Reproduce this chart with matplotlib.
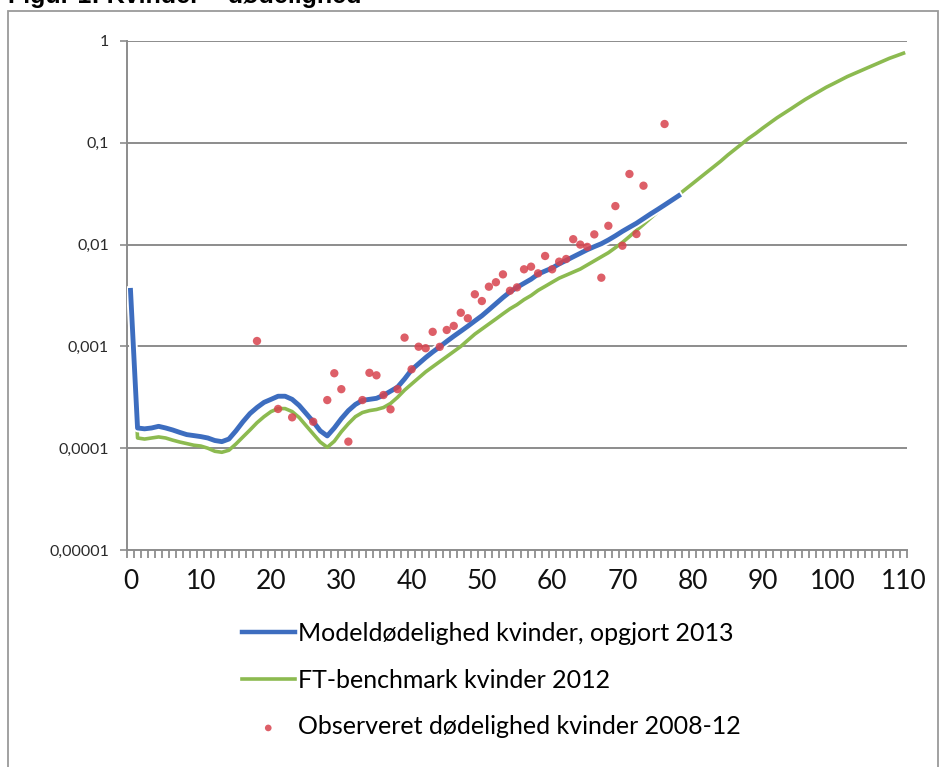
import numpy as np
import matplotlib.pyplot as plt
import matplotlib.patheffects as pe
from matplotlib.patches import Rectangle

plt.rcParams['font.family'] = ['Lato', 'DejaVu Sans']

# mortality rates by age (q_x), women
ages_model = list(range(0, 79))
model_2013 = [
    0.00355, 0.000158, 0.000155, 0.000158, 0.000164, 0.000158, 0.000151, 0.000143, 0.000136, 0.000133,
    0.000130, 0.000126, 0.000119, 0.000116, 0.000123, 0.000148, 0.000182, 0.000219, 0.000251, 0.000282,
    0.000302, 0.000324, 0.000324, 0.000302, 0.000263, 0.000219, 0.000182, 0.000148, 0.000132, 0.000158,
    0.000195, 0.000234, 0.000269, 0.000295, 0.000302, 0.000309, 0.000331, 0.000363, 0.000398, 0.000479,
    0.000589, 0.000676, 0.000776, 0.000881, 0.00099, 0.00112, 0.00126, 0.00141, 0.00158, 0.00178,
    0.00200, 0.00229, 0.00263, 0.00302, 0.00343, 0.00380, 0.00417, 0.00457, 0.00513, 0.00550,
    0.00589, 0.00646, 0.00700, 0.00759, 0.00822, 0.00891, 0.00955, 0.0102, 0.0111, 0.0122,
    0.0135, 0.0148, 0.0162, 0.0180, 0.0200, 0.0221, 0.0245, 0.0272, 0.0302,
]

ages_bench = list(range(0, 111))
benchmark_2012 = [
    0.00316, 0.000126, 0.000123, 0.000126, 0.000129, 0.000126, 0.000120, 0.000115, 0.000111, 0.000107,
    0.000105, 0.000100, 0.0000933, 0.0000912, 0.0000955, 0.000110, 0.000129, 0.000151, 0.000178, 0.000204,
    0.000229, 0.000245, 0.000245, 0.000229, 0.000200, 0.000166, 0.000138, 0.000115, 0.000102, 0.000117,
    0.000145, 0.000174, 0.000204, 0.000224, 0.000234, 0.000240, 0.000251, 0.000275, 0.000316, 0.000372,
    0.000427, 0.000490, 0.000562, 0.000631, 0.000708, 0.000794, 0.000891, 0.00100, 0.00115, 0.00132,
    0.00148, 0.00166, 0.00186, 0.00209, 0.00234, 0.00257, 0.00288, 0.00316, 0.00355, 0.00389,
    0.00427, 0.00468, 0.00501, 0.00537, 0.00575, 0.00631, 0.00692, 0.00759, 0.00832, 0.00933,
    0.0105, 0.0120, 0.0138, 0.0158, 0.0182, 0.0209, 0.0240, 0.0272, 0.0309, 0.0351,
    0.0398, 0.0452, 0.0513, 0.0582, 0.0661, 0.0759, 0.0861, 0.0977, 0.111, 0.124,
    0.140, 0.157, 0.176, 0.195, 0.216, 0.240, 0.266, 0.292, 0.320, 0.351,
    0.380, 0.412, 0.447, 0.479, 0.513, 0.550, 0.589, 0.631, 0.676, 0.716,
    0.759,
]

ages_obs = [18, 21, 23, 26, 28, 29, 30, 31, 33, 34, 35, 36, 37, 38, 39, 40, 41, 42, 43, 44,
            45, 46, 47, 48, 49, 50, 51, 52, 53, 54, 55, 56, 57, 58, 59, 60, 61, 62, 63, 64,
            65, 66, 67, 68, 69, 70, 71, 72, 73, 76]
observed = [0.00113, 0.000243, 0.000201, 0.000182, 0.000297, 0.000545, 0.00038, 0.000116, 0.000297, 0.00055,
            0.00052, 0.000333, 0.000241, 0.00038, 0.00122, 0.000596, 0.000993, 0.00096, 0.00139, 0.00099,
            0.00145, 0.00159, 0.00214, 0.00189, 0.00325, 0.00279, 0.00386, 0.00427, 0.0051, 0.00352,
            0.0038, 0.00572, 0.00607, 0.00522, 0.00773, 0.00572, 0.0068, 0.00722, 0.0113, 0.0100,
            0.0095, 0.0126, 0.00473, 0.0153, 0.0239, 0.00975, 0.0494, 0.0127, 0.0379, 0.153]

y_ticks = [1e-5, 1e-4, 1e-3, 1e-2, 1e-1, 1]
y_labels = ['0,00001', '0,0001', '0,001', '0,01', '0,1', '1']
x_ticks = list(range(0, 111, 10))

labels = ['Modeldødelighed kvinder, opgjort 2013',
          'FT-benchmark kvinder 2012',
          'Observeret dødelighed kvinder 2008-12']

BLUE = '#3D6DBF'
GREEN = '#8CBA50'
RED = '#D8434E'
GRID = '#8C8C8C'

fig = plt.figure(figsize=(9.42, 7.67), dpi=100)
ax = fig.add_axes([127 / 942, 1 - 550 / 767, 780 / 942, 509 / 767])

ax.set_yscale('log')
ax.set_ylim(1e-5, 1)
ax.set_xlim(-0.5, 110.5)

for v in y_ticks[1:]:
    ax.axhline(v, color=GRID, linewidth=1.4, zorder=1)

green_line, = ax.plot(ages_bench, benchmark_2012, color=GREEN, linewidth=2.6, zorder=2)
blue_line, = ax.plot(ages_model, model_2013, color=BLUE, linewidth=3.5, zorder=3,
                     path_effects=[pe.Stroke(linewidth=6.2, foreground='white'), pe.Normal()])
pts = ax.scatter(ages_obs, observed, s=36, color=RED, alpha=0.85, edgecolors='none', zorder=4)

ax.set_yticks(y_ticks)
ax.set_yticklabels(y_labels)
ax.yaxis.set_minor_locator(plt.NullLocator())
ax.tick_params(axis='y', length=5, width=1.2, color=GRID, labelsize=11.5, pad=8, labelcolor='#2a2a2a')

ax.set_xticks(x_ticks)
ax.set_xticks(np.arange(-0.5, 111, 1), minor=True)
ax.tick_params(axis='x', which='major', length=0, labelsize=19, pad=14, labelcolor='#111111')
ax.tick_params(axis='x', which='minor', length=6, width=1.1, color='#7a7a7a')

for side in ('top', 'right'):
    ax.spines[side].set_visible(False)
for side in ('left', 'bottom'):
    ax.spines[side].set_color(GRID)
    ax.spines[side].set_linewidth(1.4)

leg = fig.legend([blue_line, green_line, pts], labels,
                 loc='upper left', bbox_to_anchor=(232 / 942, 1 - 612 / 767),
                 frameon=False, fontsize=18, handlelength=2.1, handletextpad=0.15,
                 labelspacing=0.95, borderaxespad=0, markerscale=0.8)
leg.legend_handles[0].set_path_effects([])
leg.legend_handles[0].set_linewidth(3.2)

# outer chart border and heading
fig.patches.append(Rectangle((8 / 942, -0.05), 930 / 942, 1.05 - 11 / 767,
                             transform=fig.transFigure, fill=False,
                             edgecolor='#9A9A9A', linewidth=1.3))
fig.text(8 / 942, 1 - 3 / 767, 'Figur 1: Kvinder \u2013 dødelighed', fontsize=18,
         fontweight='bold', family=['Liberation Sans', 'DejaVu Sans'], va='baseline', ha='left')

fig.savefig('out.png', dpi=100)
